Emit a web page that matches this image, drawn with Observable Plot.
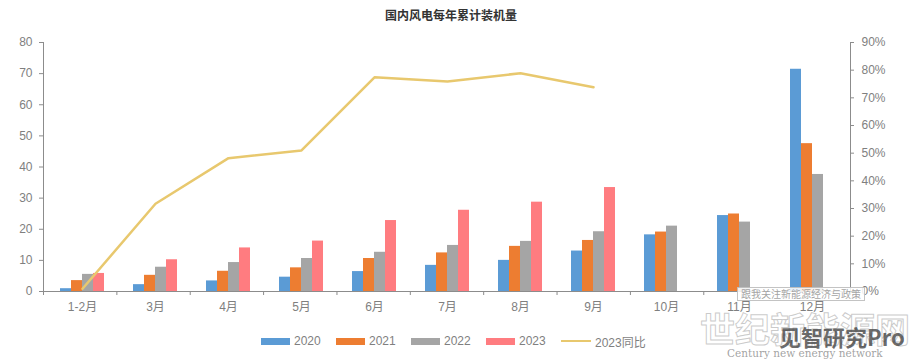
<!DOCTYPE html>
<html>
<head>
<meta charset="utf-8">
<script src="https://cdn.jsdelivr.net/npm/d3@7"></script>
<script src="https://cdn.jsdelivr.net/npm/@observablehq/plot@0.6"></script>
<style>
  html, body { margin: 0; padding: 0; background: #fff; }
  body { width: 921px; height: 363px; overflow: hidden; position: relative;
         font-family: "Liberation Sans", Arial, "Noto Sans CJK SC", sans-serif; }
  #title { position: absolute; left: 385px; top: 7px; font-size: 12px; font-weight: bold; color: #333;
           font-family: "Noto Sans CJK SC", sans-serif; line-height: 16px; white-space: nowrap; }
  #chart { position: absolute; left: 0; top: 28px; width: 921px; height: 305px; }
  #chart svg { position: absolute; left: 0; top: 0; }
  #legend { position: absolute; left: 261px; top: 333px; height: 16px; display: flex; align-items: center;
            font-size: 12px; color: #7f7f7f; white-space: nowrap; }
  .item { display: flex; align-items: center; width: 75px; flex: none; white-space: nowrap; }
  .item.last { width: auto; }
  .sw { width: 29px; height: 7px; margin-right: 4px; flex: none; }
  .ln { width: 30px; height: 2.5px; margin-right: 4px; flex: none; }
  .wm { position: absolute; white-space: nowrap; }
  .wm1 { left: 700px; top: 307px; font-size: 35px; font-weight: bold; color: rgba(255,255,255,0.55);
         -webkit-text-stroke: 1px rgba(150,150,150,0.5); font-family: "Noto Sans CJK SC", sans-serif; line-height: 42px; }
  .wm2 { left: 779px; top: 323px; font-size: 22px; font-weight: bold; color: rgba(60,60,60,0.75);
         font-family: "Noto Sans CJK SC", sans-serif; line-height: 26px; }
  .wm3 { left: 727px; top: 347px; font-size: 10.5px; color: rgba(120,120,120,0.7);
         font-family: "DejaVu Serif", serif; line-height: 13px; }
  .wm4 { left: 737px; top: 287px; font-size: 10px; color: rgba(140,140,140,0.8); background: rgba(255,255,255,0.85);
         border: 1px solid rgba(170,170,170,0.7); padding: 0 3px; line-height: 12px; font-family: "Noto Sans CJK SC", sans-serif; }
</style>
</head>
<body>
<div id="title">国内风电每年累计装机量</div>
<div id="chart"></div>
<div id="legend"></div>
<div class="wm wm4">跟我关注新能源经济与政策</div>
<div class="wm wm1">世纪新能源网</div>
<div class="wm wm2">见智研究Pro</div>
<div class="wm wm3">Century new energy network</div>
<script>
const months = ["1-2月","3月","4月","5月","6月","7月","8月","9月","10月","11月","12月"];
const seriesNames = ["2020","2021","2022","2023"];
const seriesColors = ["#5B9BD5","#ED7D31","#A5A5A5","#FF7C80"];
const v2020 = [0.9, 2.2, 3.4, 4.6, 6.4, 8.4, 10.0, 13.0, 18.2, 24.4, 71.4];
const v2021 = [3.5, 5.2, 6.5, 7.6, 10.6, 12.4, 14.5, 16.4, 19.1, 24.9, 47.5];
const v2022 = [5.5, 7.8, 9.3, 10.6, 12.6, 14.8, 16.1, 19.2, 21.0, 22.3, 37.6];
const v2023 = [5.8, 10.2, 14.0, 16.2, 22.8, 26.1, 28.7, 33.4];
const yoy2023 = [0.01, 0.317, 0.482, 0.51, 0.774, 0.759, 0.789, 0.738];
const lineName = "2023同比";
const lineColor = "#E8C86E";
const leftTicks = [0, 10, 20, 30, 40, 50, 60, 70, 80];
const rightTicks = [0, 0.1, 0.2, 0.3, 0.4, 0.5, 0.6, 0.7, 0.8, 0.9];

const bars = [];
[v2020, v2021, v2022, v2023].forEach((arr, s) => {
  arr.forEach((v, i) => bars.push({month: months[i], series: seriesNames[s], value: v}));
});
const yoyRows = yoy2023.map((v, i) => ({month: months[i], yoy: v}));

const W = 921, H = 305;
const common = {
  width: W, height: H, marginLeft: 43, marginRight: 71, marginTop: 14, marginBottom: 42,
  style: {background: "none", overflow: "visible", fontFamily: "'Liberation Sans', Arial, 'Noto Sans CJK SC', sans-serif", fontSize: "12px"}
};
const axisColor = "#8c8c8c";
const textColor = "#7f7f7f";

// A: bars, grouped by month via fx facets
const plotA = Plot.plot({
  ...common,
  fx: {domain: months, padding: 0, axis: null},
  x: {domain: seriesNames, paddingInner: 0, paddingOuter: 1.125, axis: null},
  y: {domain: [0, 80], axis: null},
  color: {domain: seriesNames, range: seriesColors},
  marks: [
    Plot.barY(bars, {fx: "month", x: "series", y: "value", fill: "series", inset: 0})
  ]
});

// C: left axis, baseline, category boundary ticks
const plotC = Plot.plot({
  ...common,
  x: {domain: [0, months.length], axis: null},
  y: {domain: [0, 80], axis: null},
  marks: [
    Plot.axisY({ticks: leftTicks, tickSize: 4, tickPadding: 7, stroke: axisColor, fill: textColor, label: null}),
    Plot.axisX({ticks: d3.range(months.length + 1), tickFormat: () => "", tickSize: 4, stroke: axisColor, label: null}),
    Plot.frame({anchor: "left", stroke: axisColor}),
    Plot.frame({anchor: "bottom", stroke: axisColor})
  ]
});

// B: yoy line on right axis, month labels
const plotB = Plot.plot({
  ...common,
  x: {type: "point", domain: months, padding: 0.5, axis: null},
  y: {domain: [0, 0.9], axis: null},
  marks: [
    Plot.axisX({anchor: "bottom", tickSize: 0, tickPadding: 11, fill: textColor, label: null}),
    Plot.axisY({anchor: "right", ticks: rightTicks, tickFormat: d3.format(".0%"), tickSize: 3, tickPadding: 8, stroke: axisColor, fill: textColor, label: null}),
    Plot.frame({anchor: "right", stroke: axisColor}),
    Plot.line(yoyRows, {x: "month", y: "yoy", stroke: lineColor, strokeWidth: 2.5, strokeLinejoin: "round"})
  ]
});

const chart = document.getElementById("chart");
chart.append(plotA, plotC, plotB);

const legend = document.getElementById("legend");
seriesNames.forEach((n, i) => {
  const it = document.createElement("div"); it.className = "item";
  const sw = document.createElement("div"); sw.className = "sw"; sw.style.background = seriesColors[i];
  const tx = document.createElement("span"); tx.textContent = n;
  it.append(sw, tx); legend.append(it);
});
{
  const it = document.createElement("div"); it.className = "item last";
  const sw = document.createElement("div"); sw.className = "ln"; sw.style.background = lineColor;
  const tx = document.createElement("span"); tx.textContent = lineName;
  it.append(sw, tx); legend.append(it);
}
</script>
</body>
</html>
